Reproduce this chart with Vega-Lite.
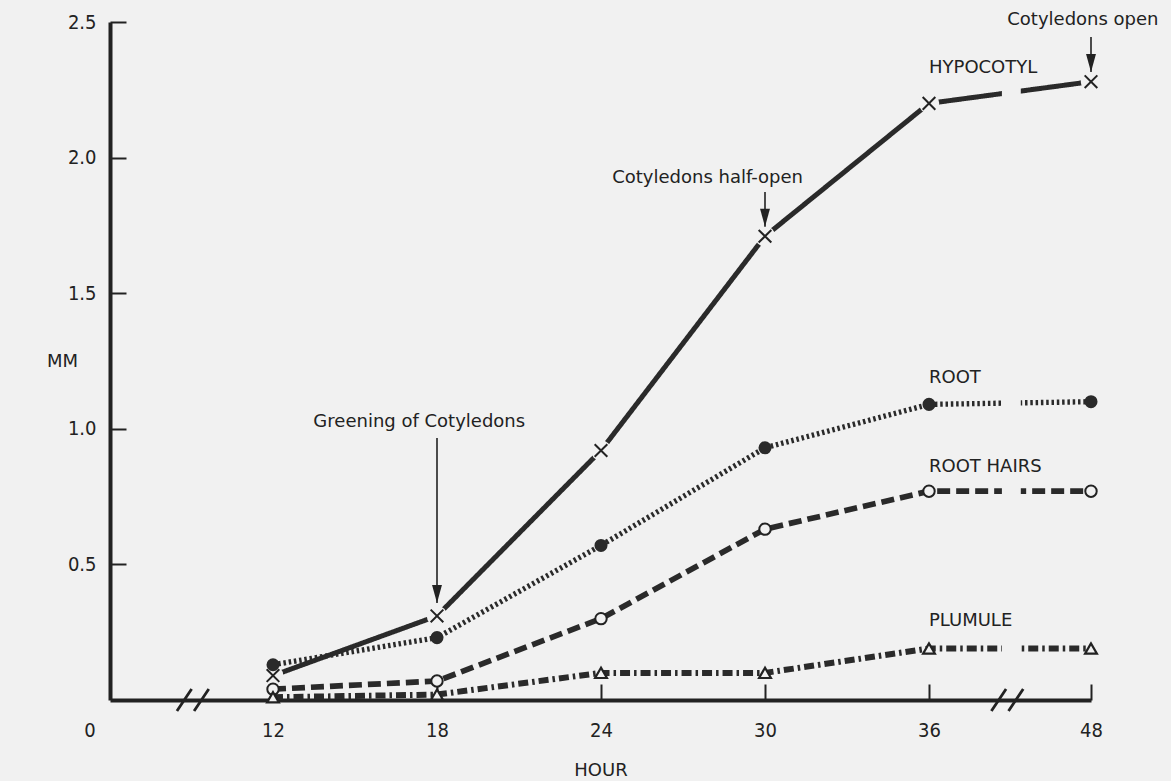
{
  "$schema": "https://vega.github.io/schema/vega-lite/v6.json",
  "width": 981,
  "height": 678,
  "autosize": {"type": "none"},
  "padding": {"left": 110, "top": 22, "right": 80, "bottom": 81},
  "background": "#f1f1f1",
  "config": {
    "view": {"stroke": null},
    "font": "DejaVu Sans, sans-serif",
    "axis": {
      "grid": false,
      "domainColor": "#222222",
      "domainWidth": 4,
      "tickColor": "#222222",
      "tickWidth": 2,
      "labelColor": "#222222",
      "labelFont": "DejaVu Sans Condensed, Liberation Sans Narrow, sans-serif",
      "labelFontSize": 20,
      "labelFlush": false,
      "titleColor": "#222222",
      "titleFont": "DejaVu Sans, sans-serif",
      "titleFontSize": 18,
      "titleFontWeight": "normal"
    }
  },
  "datasets": {
    "growth": [
      {"series": "HYPOCOTYL", "hour": 12, "mm": 0.09},
      {"series": "HYPOCOTYL", "hour": 18, "mm": 0.31},
      {"series": "HYPOCOTYL", "hour": 24, "mm": 0.92},
      {"series": "HYPOCOTYL", "hour": 30, "mm": 1.71},
      {"series": "HYPOCOTYL", "hour": 36, "mm": 2.2},
      {"series": "HYPOCOTYL", "hour": 48, "mm": 2.28},
      {"series": "ROOT", "hour": 12, "mm": 0.13},
      {"series": "ROOT", "hour": 18, "mm": 0.23},
      {"series": "ROOT", "hour": 24, "mm": 0.57},
      {"series": "ROOT", "hour": 30, "mm": 0.93},
      {"series": "ROOT", "hour": 36, "mm": 1.09},
      {"series": "ROOT", "hour": 48, "mm": 1.1},
      {"series": "ROOT HAIRS", "hour": 12, "mm": 0.04},
      {"series": "ROOT HAIRS", "hour": 18, "mm": 0.07},
      {"series": "ROOT HAIRS", "hour": 24, "mm": 0.3},
      {"series": "ROOT HAIRS", "hour": 30, "mm": 0.63},
      {"series": "ROOT HAIRS", "hour": 36, "mm": 0.77},
      {"series": "ROOT HAIRS", "hour": 48, "mm": 0.77},
      {"series": "PLUMULE", "hour": 12, "mm": 0.01},
      {"series": "PLUMULE", "hour": 18, "mm": 0.02},
      {"series": "PLUMULE", "hour": 24, "mm": 0.1},
      {"series": "PLUMULE", "hour": 30, "mm": 0.1},
      {"series": "PLUMULE", "hour": 36, "mm": 0.19},
      {"series": "PLUMULE", "hour": 48, "mm": 0.19}
    ],
    "seriesLabels": [
      {"text": "HYPOCOTYL", "hour": 36, "mm": 2.33},
      {"text": "ROOT", "hour": 36, "mm": 1.187},
      {"text": "ROOT HAIRS", "hour": 36, "mm": 0.859},
      {"text": "PLUMULE", "hour": 36, "mm": 0.291}
    ],
    "notes": [
      {"text": "Greening of Cotyledons", "hour": 17.35, "mm": 1.025},
      {"text": "Cotyledons half-open", "hour": 27.9, "mm": 1.925},
      {"text": "Cotyledons open", "hour": 47.4, "mm": 2.507}
    ],
    "arrows": [
      {"hour": 18, "top": 0.966, "tip": 0.358},
      {"hour": 30, "top": 1.873, "tip": 1.745},
      {"hour": 48, "top": 2.445, "tip": 2.316}
    ],
    "breaks": [
      {"hour": 6.1, "mm": 0},
      {"hour": 41.8, "mm": 0}
    ],
    "gap": [
      {"hour": 41.4, "hour2": 42.8, "mm": 0.05, "mm2": 2.45}
    ],
    "origin": [
      {"text": "0", "hour": 0, "mm": 0}
    ]
  },
  "encoding": {
    "x": {
      "field": "hour",
      "type": "quantitative",
      "scale": {"domain": [0, 12, 36, 48], "range": [0, 163, 819, 981], "zero": false, "nice": false},
      "axis": {
        "values": [12, 18, 24, 30, 36, 48],
        "tickSize": -16,
        "labelPadding": 36,
        "title": "HOUR",
        "titlePadding": 21
      }
    },
    "y": {
      "field": "mm",
      "type": "quantitative",
      "scale": {"domain": [0, 2.5], "nice": false, "zero": true},
      "axis": {
        "values": [0.5, 1, 1.5, 2, 2.5],
        "format": ".1f",
        "tickSize": -16,
        "labelPadding": 30,
        "title": "MM",
        "titleAngle": 0,
        "titleX": -48,
        "titleY": 339,
        "titleAlign": "center",
        "titleBaseline": "middle"
      }
    }
  },
  "layer": [
    {
      "data": {"name": "growth"},
      "mark": {"type": "line", "color": "#2a2a2a", "strokeCap": "butt"},
      "encoding": {
        "detail": {"field": "series"},
        "strokeDash": {
          "field": "series",
          "type": "nominal",
          "scale": {
            "domain": ["HYPOCOTYL", "ROOT", "ROOT HAIRS", "PLUMULE"],
            "range": [[1, 0], [2.5, 2.8], [13, 6], [10, 4, 2.5, 4]]
          },
          "legend": null
        },
        "strokeWidth": {
          "field": "series",
          "type": "nominal",
          "scale": {
            "domain": ["HYPOCOTYL", "ROOT", "ROOT HAIRS", "PLUMULE"],
            "range": [5, 6, 5, 4.5]
          },
          "legend": null
        }
      }
    },
    {
      "data": {"name": "gap"},
      "mark": {"type": "rect", "fill": "#f1f1f1"},
      "encoding": {
        "x2": {"field": "hour2"},
        "y2": {"field": "mm2"}
      }
    },
    {
      "data": {"name": "growth"},
      "transform": [{"filter": "datum.series === 'HYPOCOTYL'"}],
      "mark": {"type": "point", "shape": "circle", "filled": true, "fill": "#f1f1f1", "stroke": null, "size": 420, "opacity": 1}
    },
    {
      "data": {"name": "growth"},
      "transform": [{"filter": "datum.series === 'HYPOCOTYL'"}],
      "mark": {"type": "point", "shape": "M-1,-1L1,1M1,-1L-1,1", "filled": false, "stroke": "#222222", "strokeWidth": 2, "size": 160, "opacity": 1}
    },
    {
      "data": {"name": "growth"},
      "transform": [{"filter": "datum.series === 'ROOT'"}],
      "mark": {"type": "point", "shape": "circle", "filled": true, "fill": "#2a2a2a", "size": 170, "opacity": 1}
    },
    {
      "data": {"name": "growth"},
      "transform": [{"filter": "datum.series === 'ROOT HAIRS'"}],
      "mark": {"type": "point", "shape": "circle", "filled": true, "fill": "#f1f1f1", "stroke": "#222222", "strokeWidth": 2, "size": 130, "opacity": 1}
    },
    {
      "data": {"name": "growth"},
      "transform": [{"filter": "datum.series === 'PLUMULE'"}],
      "mark": {"type": "point", "shape": "triangle-up", "filled": true, "fill": "#f1f1f1", "stroke": "#222222", "strokeWidth": 2.2, "size": 140, "opacity": 1}
    },
    {
      "data": {"name": "breaks"},
      "mark": {"type": "point", "shape": "M-1.3,0.9L-0.1,-0.9M0.1,0.9L1.3,-0.9", "filled": false, "stroke": "#222222", "strokeWidth": 2.8, "size": 600, "opacity": 1}
    },
    {
      "data": {"name": "seriesLabels"},
      "mark": {"type": "text", "align": "left", "baseline": "middle", "fontSize": 18, "color": "#222222"},
      "encoding": {"text": {"field": "text"}}
    },
    {
      "data": {"name": "notes"},
      "mark": {"type": "text", "align": "center", "baseline": "middle", "fontSize": 18, "color": "#222222"},
      "encoding": {"text": {"field": "text"}}
    },
    {
      "data": {"name": "origin"},
      "mark": {"type": "text", "align": "center", "baseline": "middle", "fontSize": 20, "font": "DejaVu Sans Condensed, sans-serif", "color": "#222222", "dx": -20, "dy": 31},
      "encoding": {"text": {"field": "text"}}
    },
    {
      "data": {"name": "arrows"},
      "mark": {"type": "rule", "color": "#222222", "strokeWidth": 1.6},
      "encoding": {
        "y": {"field": "top", "type": "quantitative"},
        "y2": {"field": "tip"}
      }
    },
    {
      "data": {"name": "arrows"},
      "mark": {"type": "point", "shape": "M-0.55,-2L0.55,-2L0,0Z", "filled": true, "fill": "#222222", "size": 324, "opacity": 1},
      "encoding": {
        "y": {"field": "tip", "type": "quantitative"}
      }
    }
  ]
}
